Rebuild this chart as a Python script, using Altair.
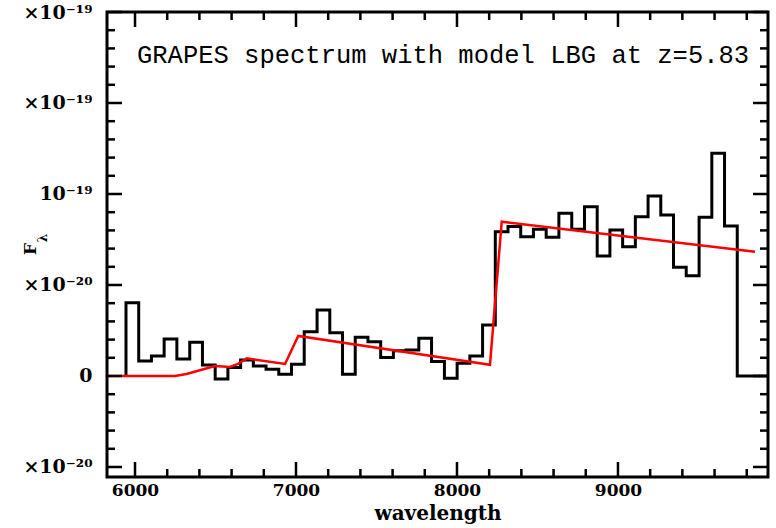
import altair as alt
import pandas as pd

# ---- binned GRAPES spectrum: bin edges (Angstrom) and flux per bin (units of 1e-20) ----
bin_edges = [5944, 6023, 6102, 6181, 6260, 6340, 6419, 6498, 6577, 6656,
             6735, 6814, 6893, 6972, 7051, 7131, 7210, 7289, 7368, 7447,
             7526, 7605, 7684, 7763, 7842, 7922, 8001, 8080, 8159, 8238,
             8317, 8396, 8475, 8554, 8633, 8713, 8792, 8871, 8950, 9029,
             9108, 9187, 9266, 9345, 9424, 9504, 9583, 9662, 9741]
flux = [4.03, 0.82, 1.10, 2.03, 0.93, 1.85, 0.60, -0.16, 0.46, 0.88,
        0.55, 0.37, 0.09, 0.64, 2.43, 3.63, 2.38, 0.09, 2.13, 1.88,
        1.01, 1.39, 1.43, 2.07, 0.79, -0.13, 0.70, 1.10, 2.80, 7.93,
        8.22, 7.65, 8.06, 7.62, 8.94, 8.06, 9.30, 6.59, 8.02, 7.10,
        8.75, 9.89, 8.85, 5.97, 5.51, 8.72, 12.24, 8.24]

# ---- model LBG spectrum at z=5.83 (units of 1e-20) ----
model_wave = [5800, 6248, 6320, 6497, 6590, 6640, 6694, 6932, 7014, 8205, 8278, 9851]
model_flux = [0.0, 0.0, 0.11, 0.55, 0.50, 0.66, 0.97, 0.66, 2.20, 0.62, 8.48, 6.83]

# ---- axis ranges and tick marks ----
x_range = [5826, 9932]
y_range = [-5.55, 20.0]
x_major = [6000, 7000, 8000, 9000]
x_minor = [6200, 6400, 6600, 6800, 7200, 7400, 7600, 7800,
           8200, 8400, 8600, 8800, 9200, 9400, 9600, 9800]
y_major = [-5, 0, 5, 10, 15, 20]
y_minor = [-4, -3, -2, -1, 1, 2, 3, 4, 6, 7, 8, 9,
           11, 12, 13, 14, 16, 17, 18, 19]

W, H = 661, 465
MAJ, MIN = 15, 8
SERIF = "DejaVu Serif"

# histogram outline: rise from zero, flat top across each bin, back to zero
pts = [(bin_edges[0], 0.0)]
for i, f in enumerate(flux):
    pts.append((bin_edges[i], f))
    pts.append((bin_edges[i + 1], f))
pts.append((bin_edges[-1], 0.0))
pts.append((x_range[1], 0.0))
hist_df = pd.DataFrame({"wave": [p[0] for p in pts],
                        "flux": [p[1] for p in pts],
                        "k": range(len(pts))})
model_df = pd.DataFrame({"wave": model_wave, "flux": model_flux,
                         "k": range(len(model_wave))})

xs = alt.Scale(domain=x_range, nice=False, zero=False)
ys = alt.Scale(domain=y_range, nice=False, zero=False)

label_expr = ("datum.value == 20 ? '×10⁻¹⁹' : datum.value == 15 ? '×10⁻¹⁹' : "
              "datum.value == 10 ? '10⁻¹⁹' : datum.value == 5 ? '×10⁻²⁰' : "
              "datum.value == 0 ? '0' : '×10⁻²⁰'")

x_axis = alt.Axis(values=x_major, format="d", title="wavelength", ticks=False,
                  domain=False, grid=False, labelFont=SERIF, labelFontWeight="bold",
                  labelFontSize=17, labelColor="black", labelPadding=5,
                  titleFont=SERIF, titleFontWeight="bold", titleFontSize=20,
                  titleColor="black", titlePadding=5)
y_axis = alt.Axis(values=y_major, labelExpr=label_expr, title=None, ticks=False,
                  domain=False, grid=False, labelFont=SERIF, labelFontWeight="bold",
                  labelFontSize=19, labelColor="black", labelPadding=15)

hist = alt.Chart(hist_df).mark_line(color="black", strokeWidth=3,
                                    strokeJoin="miter", clip=True).encode(
    x=alt.X("wave:Q", scale=xs, axis=x_axis),
    y=alt.Y("flux:Q", scale=ys, axis=y_axis),
    order="k:Q",
)

model = alt.Chart(model_df).mark_line(color="#ff0000", strokeWidth=2.5,
                                      clip=True).encode(
    x=alt.X("wave:Q", scale=xs),
    y=alt.Y("flux:Q", scale=ys),
    order="k:Q",
)


def xticks(vals, length, top):
    df = pd.DataFrame({"wave": vals})
    if top:
        pos = dict(y=alt.value(0), y2=alt.value(length))
    else:
        pos = dict(y=alt.value(H - length), y2=alt.value(H))
    return alt.Chart(df).mark_rule(color="black", strokeWidth=2.5).encode(
        x=alt.X("wave:Q", scale=xs), **pos)


def yticks(vals, length, left):
    df = pd.DataFrame({"flux": vals})
    if left:
        pos = dict(x=alt.value(0), x2=alt.value(length))
    else:
        pos = dict(x=alt.value(W - length), x2=alt.value(W))
    return alt.Chart(df).mark_rule(color="black", strokeWidth=2.5).encode(
        y=alt.Y("flux:Q", scale=ys), **pos)


ticks = [xticks(x_major, MAJ, True), xticks(x_major, MAJ, False),
         xticks(x_minor, MIN, True), xticks(x_minor, MIN, False),
         yticks(y_major, MAJ, True), yticks(y_major, MAJ, False),
         yticks(y_minor, MIN, True), yticks(y_minor, MIN, False)]

label_df = pd.DataFrame({"t": ["GRAPES spectrum with model LBG at z=5.83"]})
caption = alt.Chart(label_df).mark_text(
    font="Liberation Mono", fontSize=25.5, align="left", baseline="middle",
    color="black").encode(x=alt.value(30), y=alt.value(43), text="t:N")

f_df = pd.DataFrame({"t": ["F"]})
lam_df = pd.DataFrame({"t": ["λ"]})
f_label = alt.Chart(f_df).mark_text(
    font=SERIF, fontWeight="bold", fontSize=17, angle=270, align="center",
    baseline="middle", color="black").encode(
    x=alt.value(-76), y=alt.value(237), text="t:N")
lam_label = alt.Chart(lam_df).mark_text(
    font=SERIF, fontWeight="bold", fontSize=12, angle=270, align="center",
    baseline="middle", color="black").encode(
    x=alt.value(-64), y=alt.value(226), text="t:N")

chart = alt.layer(hist, model, *ticks, caption, f_label, lam_label).properties(
    width=W, height=H,
    autosize=alt.AutoSizeParams(type="none"),
    padding={"left": 107, "top": 12, "right": 8, "bottom": 51},
    background="white",
).configure_view(stroke="black", strokeWidth=3)

chart.save("out.html", embed_options={"renderer": "svg", "actions": False})
